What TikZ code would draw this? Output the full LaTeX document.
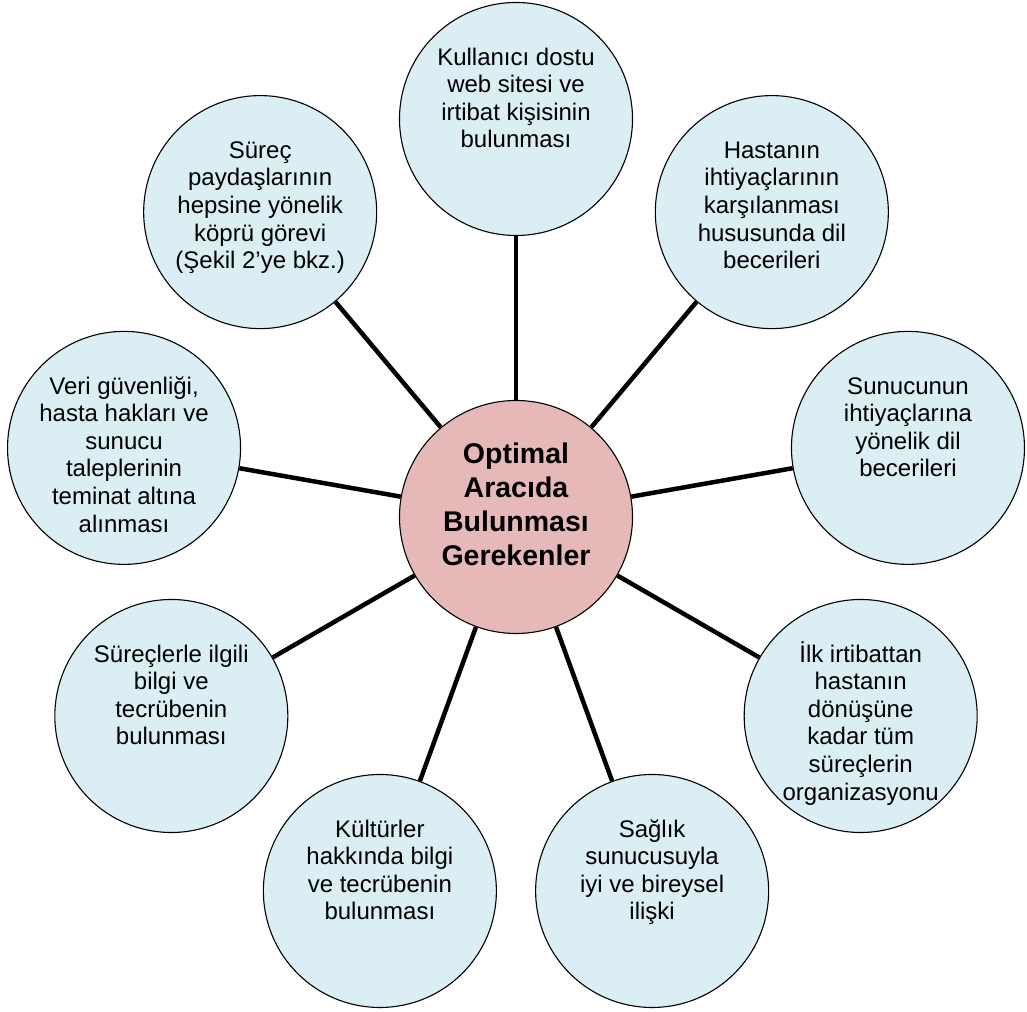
\documentclass[tikz,border=0pt]{standalone}
\usepackage{fontspec}
\setmainfont{Liberation Sans}
\usetikzlibrary{calc}
\definecolor{bubblefill}{HTML}{DAEEF3}
\definecolor{hubfill}{HTML}{E6B9B8}
% fixed-height struts so every first line sits on the same baseline
\newcommand\firstline{\rule{0pt}{22pt}}
\newcommand\hubline{\rule{0pt}{26pt}}
\begin{document}
\begin{tikzpicture}[x=1pt,y=1pt,
  bubble/.style={circle, draw=black, line width=1.1pt, fill=bubblefill,
                 minimum size=233pt, inner sep=0pt},
  hub/.style={bubble, fill=hubfill},
  bubbletext/.style={align=center, anchor=north, inner sep=0pt,
                     font=\fontsize{24}{27.6}\selectfont},
  hubtext/.style={align=center, anchor=north, inner sep=0pt,
                  font=\fontsize{28.5}{34}\selectfont\bfseries},
  spoke/.style={line width=4.5pt}]
\useasboundingbox (0,0) rectangle (1027,1011);
\coordinate (o) at (516,494);

% central circle and the nine surrounding circles
\node[hub] (hub) at (o) {};
\foreach \n/\a in {n1/90, n2/50, n3/10, n4/-30, n5/-70,
                   n6/-110, n7/-150, n8/170, n9/130}
  \node[bubble] (\n) at ($(o)+(\a:398)$) {};

% spokes
\foreach \n in {n1,n2,n3,n4,n5,n6,n7,n8,n9}
  \draw[spoke] (hub) -- (\n);

% texts
\node[hubtext] (thub) at ($(hub.center)+(0,79.7)$)
  {\hubline Optimal\\Aracıda\\Bulunması\\Gerekenler};
\node[bubbletext] (t1) at ($(n1.center)+(0,76)$)
  {\firstline Kullanıcı dostu\\web sitesi ve\\irtibat kişisinin\\bulunması};
\node[bubbletext] (t2) at ($(n2.center)+(0,76)$)
  {\firstline Hastanın\\ihtiyaçlarının\\karşılanması\\hususunda dil\\becerileri};
\node[bubbletext] (t3) at ($(n3.center)+(0,76)$)
  {\firstline Sunucunun\\ihtiyaçlarına\\yönelik dil\\becerileri};
\node[bubbletext] (t4) at ($(n4.center)+(0,76)$)
  {\firstline İlk irtibattan\\hastanın\\dönüşüne\\kadar tüm\\süreçlerin\\organizasyonu};
\node[bubbletext] (t5) at ($(n5.center)+(0,76)$)
  {\firstline Sağlık\\sunucusuyla\\iyi ve bireysel\\ilişki};
\node[bubbletext] (t6) at ($(n6.center)+(0,76)$)
  {\firstline Kültürler\\hakkında bilgi\\ve tecrübenin\\bulunması};
\node[bubbletext] (t7) at ($(n7.center)+(0,76)$)
  {\firstline Süreçlerle ilgili\\bilgi ve\\tecrübenin\\bulunması};
\node[bubbletext] (t8) at ($(n8.center)+(0,76)$)
  {\firstline Veri güvenliği,\\hasta hakları ve\\sunucu\\taleplerinin\\teminat altına\\alınması};
\node[bubbletext] (t9) at ($(n9.center)+(0,76)$)
  {\firstline Süreç\\paydaşlarının\\hepsine yönelik\\köprü görevi\\(Şekil 2’ye bkz.)};
\end{tikzpicture}
\end{document}
